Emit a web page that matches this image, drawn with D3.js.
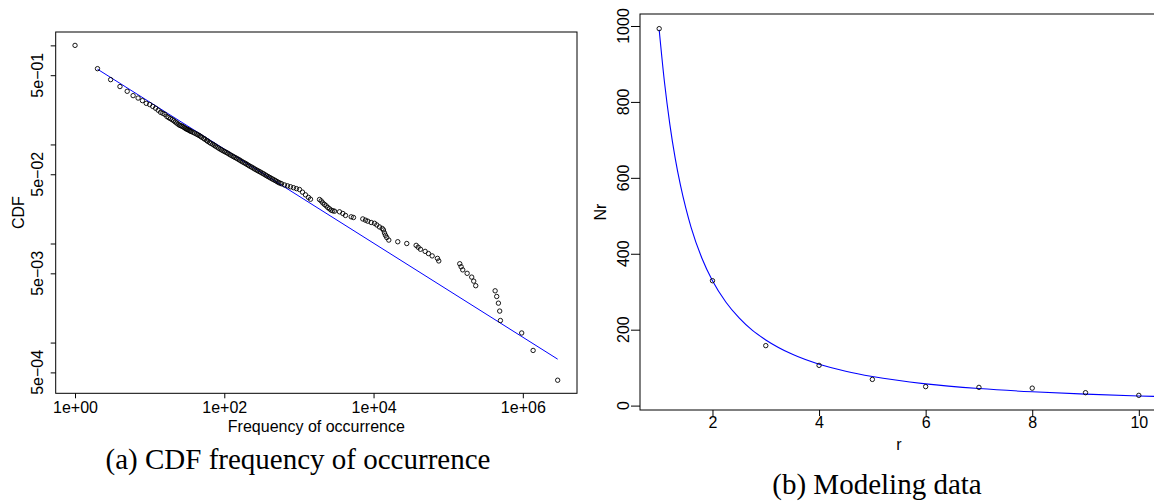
<!DOCTYPE html>
<html><head><meta charset="utf-8">
<script src="https://cdn.jsdelivr.net/npm/d3@7"></script>
<style>
html,body{margin:0;padding:0;background:#fff;}
svg{display:block;}
.tk{font-family:"Liberation Sans",Arial,Helvetica,sans-serif;font-size:16px;fill:#000;}
.cap{font-family:"Liberation Serif","Times New Roman",serif;font-size:29px;fill:#000;}
</style>
</head><body>
<svg id="chart" width="1154" height="503"></svg>
<script>
// ---- Panel (a): CDF of frequency of occurrence (log-log) ----
const freqValues = [1,2,3,4,5,6,7,8,9,
  10,11,12,13,14,15,16,17,18,19,20,21,22,23,24,25,26,27,28,29,30,31,32,33,34,35,36,38,40,42,44,46,48,50,53,55,58,60,63,66,70,73,76,80,84,88,92,96,
  101,106,111,116,121,127,133,139,146,153,160,167,175,184,193,202,211,221,232,243,254,266,279,292,306,321,336,352,368,386,404,423,443,464,486,509,532,558,585,
  641,703,771,846,927,1018,1116,1224,1343,1429,
  1888,1988,2089,2203,2322,2438,2570,2706,2843,2997,3499,3873,4207,5015,5383,
  7174,7796,8371,9295,10290,11040,12000,13040,13580,14000,14450,15030,16000,
  21100,27860,37200,39600,42500,49100,54400,61000,71800,74800,
  142900,149000,156600,179400,206600,219800,233900,
  425600,446900,471000,490000,501000,966000,1374000,2931000];
const cdfValues = [1,0.582,0.451,0.384,0.344,0.311,0.294,0.277,0.26,
  0.253,0.242,0.232,0.2215,0.211,0.206,0.201,0.1915,0.1863,0.182,0.178,0.1734,0.1687,0.1646,0.1604,0.1568,0.1547,0.1532,0.1511,0.148,0.1455,0.1433,0.1418,0.1402,0.1387,0.1366,0.1352,0.1325,0.1303,0.1278,0.1255,0.1232,0.1207,0.118,0.1151,0.1128,0.1099,0.1076,0.1052,0.1025,0.1004,0.0983,0.0962,0.094,0.0918,0.0898,0.0882,0.0864,
  0.0848,0.0831,0.0816,0.0799,0.0783,0.0768,0.0753,0.0739,0.0725,0.071,0.0697,0.0682,0.0668,0.0654,0.0642,0.0628,0.0615,0.0602,0.0591,0.0579,0.0567,0.0556,0.0545,0.0535,0.0525,0.0514,0.0505,0.0494,0.0484,0.0474,0.0465,0.0456,0.0447,0.0439,0.0431,0.0422,0.0413,0.0407,0.0401,
  0.0390,0.0382,0.0374,0.0366,0.0358,0.0351,0.0330,0.0310,0.0292,0.0280,
  0.0278,0.0269,0.0257,0.0248,0.0240,0.0231,0.0224,0.0217,0.0214,0.0212,0.0209,0.0201,0.0192,0.0186,0.0183,
  0.0177,0.0172,0.0168,0.0163,0.0160,0.0154,0.0147,0.0142,0.0137,0.0128,0.0121,0.0115,0.01083,
  0.01042,0.0100,0.00958,0.00917,0.00875,0.00833,0.00792,0.0075,0.00708,0.00667,
  0.00625,0.00583,0.00542,0.005,0.00458,0.00417,0.00375,
  0.00333,0.00292,0.0025,0.00208,0.00167,0.00125,0.000833,0.000417];
const fitLineFreq = [2, 2931000];
const fitLineCdf = [0.575, 0.00068];
const xTicksA = [1, 100, 10000, 1000000];
const xTickLabelsA = ["1e+00","1e+02","1e+04","1e+06"];
const yTicksA = [1, 0.5, 0.1, 0.05, 0.01, 0.005, 0.001, 0.0005];
const yTickLabelsA = ["", "5e\u221201", "", "5e\u221202", "", "5e\u221203", "", "5e\u221204"];

// ---- Panel (b): Modeling data ----
const rValues = [1,2,3,4,5,6,7,8,9,10];
const nrValues = [993,329,158,106,69,50,48,46,34,27];
const curveR  = [1,1.1,1.2,1.3,1.4,1.5,1.6,1.8,2,2.25,2.5,2.75,3,3.5,4,4.5,5,6,7,8,9,10,10.4];
const curveNr = [990,851,741,652,580,520,469,389,329,273,231,198,173,135,109,90.6,76.6,57.3,44.9,36.3,30.1,25.4,23.9];
const xTicksB = [2,4,6,8,10];
const yTicksB = [0,200,400,600,800,1000];

const svg = d3.select("#chart");
svg.append("rect").attr("width",1154).attr("height",503).attr("fill","#fff");

// ===== Panel (a) =====
const A = {l:55.7, r:577, t:32, b:393.3};
const xA = d3.scaleLog().domain([Math.pow(10,-0.259), Math.pow(10,6.726)]).range([A.l, A.r]);
const yA = d3.scaleLog().domain([Math.pow(10,0.135), Math.pow(10,-3.512)]).range([A.t, A.b]);
const gA = svg.append("g");

const axA_x = gA.append("g").attr("transform",`translate(0,${A.b})`)
  .call(d3.axisBottom(xA).tickValues(xTicksA).tickSize(5).tickPadding(3)
    .tickFormat((d,i)=>xTickLabelsA[i]));
const axA_y = gA.append("g").attr("transform",`translate(${A.l},0)`)
  .call(d3.axisLeft(yA).tickValues(yTicksA).tickSize(5).tickFormat(()=>""));
[axA_x, axA_y].forEach(a=>{a.select(".domain").remove(); a.selectAll("line").attr("stroke","#000");});
axA_x.selectAll("text").attr("class","tk").attr("font-size",null).attr("font-family",null).attr("dy",null).attr("y",19.4);
gA.selectAll("text.ylabA").data(yTicksA.map((v,i)=>({v,l:yTickLabelsA[i]})).filter(d=>d.l))
  .join("text").attr("class","tk ylabA").attr("text-anchor","middle")
  .attr("transform",d=>`translate(43.3,${yA(d.v)}) rotate(-90)`).text(d=>d.l);
gA.append("rect").attr("x",A.l).attr("y",A.t).attr("width",A.r-A.l).attr("height",A.b-A.t)
  .attr("fill","none").attr("stroke","#000").attr("stroke-width",1);
gA.append("text").attr("class","tk").attr("text-anchor","middle")
  .attr("x",(A.l+A.r)/2).attr("y",431.7).text("Frequency of occurrence");
gA.append("text").attr("class","tk").attr("text-anchor","middle")
  .attr("transform",`translate(24,${(A.t+A.b)/2}) rotate(-90)`).text("CDF");

const lineA = d3.line().x(d=>xA(d[0])).y(d=>yA(d[1]));
gA.append("path").attr("d", lineA(fitLineFreq.map((f,i)=>[f,fitLineCdf[i]])))
  .attr("fill","none").attr("stroke","#0000ff").attr("stroke-width",1);
gA.append("g").selectAll("circle").data(freqValues.map((f,i)=>[f,cdfValues[i]]))
  .join("circle").attr("cx",d=>xA(d[0])).attr("cy",d=>yA(d[1])).attr("r",2.2)
  .attr("fill","none").attr("stroke","#000").attr("stroke-width",0.9);

// ===== Panel (b) =====
const B = {l:640, r:1158, t:14, b:410};
const xB = d3.scaleLinear().domain([0.64,10.36]).range([B.l,B.r]);
const yB = d3.scaleLinear().domain([-11.6,1031.6]).range([B.b,B.t]);
const gB = svg.append("g");
gB.append("defs").append("clipPath").attr("id","clipB").append("rect")
  .attr("x",B.l).attr("y",B.t).attr("width",B.r-B.l).attr("height",B.b-B.t);
const axB_x = gB.append("g").attr("transform",`translate(0,${B.b})`)
  .call(d3.axisBottom(xB).tickValues(xTicksB).tickSize(6).tickFormat(d3.format("d")));
const axB_y = gB.append("g").attr("transform",`translate(${B.l},0)`)
  .call(d3.axisLeft(yB).tickValues(yTicksB).tickSize(9).tickFormat(()=>""));
[axB_x, axB_y].forEach(a=>{a.select(".domain").remove(); a.selectAll("line").attr("stroke","#000");});
axB_x.selectAll("text").attr("class","tk").attr("font-size",null).attr("font-family",null).attr("dy",null).attr("y",18.3);
gB.selectAll("text.ylabB").data(yTicksB).join("text").attr("class","tk ylabB").attr("text-anchor","middle")
  .attr("transform",d=>`translate(629.3,${yB(d)}) rotate(-90)`).text(d=>d);
gB.append("rect").attr("x",B.l).attr("y",B.t).attr("width",B.r-B.l).attr("height",B.b-B.t)
  .attr("fill","none").attr("stroke","#000").attr("stroke-width",1);
gB.append("text").attr("class","tk").attr("text-anchor","middle")
  .attr("x",(B.l+B.r)/2).attr("y",450).text("r");
gB.append("text").attr("class","tk").attr("text-anchor","middle")
  .attr("transform",`translate(606,${(B.t+B.b)/2}) rotate(-90)`).text("Nr");
const lineB = d3.line().x(d=>xB(d[0])).y(d=>yB(d[1])).curve(d3.curveMonotoneX);
gB.append("path").attr("clip-path","url(#clipB)")
  .attr("d", lineB(curveR.map((r,i)=>[r,curveNr[i]])))
  .attr("fill","none").attr("stroke","#0000ff").attr("stroke-width",1.1);
gB.append("g").selectAll("circle").data(rValues.map((r,i)=>[r,nrValues[i]]))
  .join("circle").attr("cx",d=>xB(d[0])).attr("cy",d=>yB(d[1])).attr("r",2.2)
  .attr("fill","none").attr("stroke","#000").attr("stroke-width",0.9);

svg.append("text").attr("class","cap").attr("text-anchor","middle")
  .attr("x",298).attr("y",468.5).text("(a) CDF frequency of occurrence");
svg.append("text").attr("class","cap").attr("text-anchor","middle")
  .attr("x",877).attr("y",493.5).text("(b) Modeling data");
</script>
</body></html>
